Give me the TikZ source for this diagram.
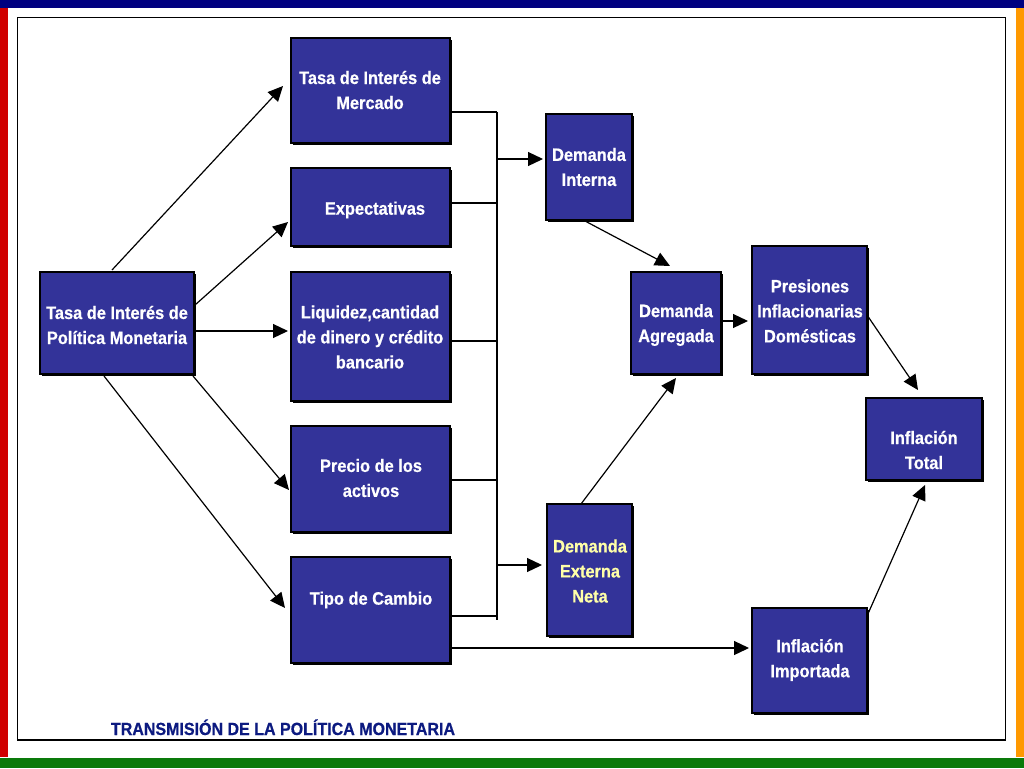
\documentclass[tikz,border=0pt]{standalone}
\usepackage{fontspec}
\usetikzlibrary{arrows.meta,calc,shadows}
\newfontfamily\boxfont[FakeStretch=0.91,FakeBold=0.6]{Liberation Sans}
\definecolor{boxblue}{HTML}{333399}
\definecolor{navybar}{HTML}{000080}
\definecolor{redbar}{HTML}{D00000}
\definecolor{orangebar}{HTML}{FF9900}
\definecolor{greenbar}{HTML}{0A7A0A}
\definecolor{titleblue}{HTML}{0C1A80}
\definecolor{paleyellow}{HTML}{FFFFA8}
\tikzset{
  flowbox/.style={draw=black, line width=1.1pt, fill=boxblue, inner sep=0pt, outer sep=0pt,
    anchor=north west, drop shadow={shadow xshift=1.6pt, shadow yshift=-1.6pt, fill=black, opacity=1}},
  boxtext/.style={text=white, align=center, inner sep=0pt,
    font=\boxfont\bfseries\fontsize{18}{25}\selectfont},
  conn/.style={line width=1.2pt, draw=black},
  arr/.style={conn, -{Triangle[length=15pt,width=14pt]}},
}
\begin{document}
\begin{tikzpicture}[x=1pt,y=-1pt]
\useasboundingbox (0,0) rectangle (1024,768);
% page decoration
\fill[white] (0,0) rectangle (1024,768);
\fill[redbar] (0,5) rectangle (8,757);
\fill[orangebar] (1016,8) rectangle (1024,757);
\fill[navybar] (0,0) rectangle (1024,8);
\fill[greenbar] (0,758) rectangle (1024,768);
\draw[line width=1.6pt] (17.5,17.5) rectangle (1005.5,740);

% boxes
\node[flowbox, minimum width=154pt, minimum height=102pt] (A) at (40,272) {};
\node[flowbox, minimum width=159pt, minimum height=105pt] (B) at (291,38) {};
\node[flowbox, minimum width=159pt, minimum height=78pt]  (C) at (291,168) {};
\node[flowbox, minimum width=159pt, minimum height=129pt] (D) at (291,272) {};
\node[flowbox, minimum width=159pt, minimum height=106pt] (E) at (291,426) {};
\node[flowbox, minimum width=159pt, minimum height=106pt] (F) at (291,557) {};
\node[flowbox, minimum width=86pt,  minimum height=106pt] (G) at (546,114) {};
\node[flowbox, minimum width=85pt,  minimum height=132pt] (H) at (547,504) {};
\node[flowbox, minimum width=90pt,  minimum height=102pt] (I) at (631,272) {};
\node[flowbox, minimum width=115pt, minimum height=128pt] (J) at (752,246) {};
\node[flowbox, minimum width=116pt, minimum height=82pt]  (K) at (866,398) {};
\node[flowbox, minimum width=115pt, minimum height=105pt] (L) at (752,608) {};

% texts
\node[boxtext] (At) at (117,325) {Tasa de Interés de\\Política Monetaria};
\node[boxtext] (Bt) at (370,90) {Tasa de Interés de\\Mercado};
\node[boxtext] (Ct) at (375,210) {Expectativas};
\node[boxtext] (Dt) at (370,337) {Liquidez,cantidad\\de dinero y crédito\\bancario};
\node[boxtext] (Et) at (371,478) {Precio de los\\activos};
\node[boxtext] (Ft) at (371,600) {Tipo de Cambio};
\node[boxtext] (Gt) at (589,167) {Demanda\\Interna};
\node[boxtext, text=paleyellow] (Ht) at (590,571) {Demanda\\Externa\\Neta};
\node[boxtext] (It) at (676,325) {Demanda\\Agregada};
\node[boxtext] (Jt) at (810,311) {Presiones\\Inflacionarias\\Domésticas};
\node[boxtext] (Kt) at (924,450) {Inflación\\Total};
\node[boxtext] (Lt) at (810,660) {Inflación\\Importada};

\node[anchor=base, text=titleblue, inner sep=0pt,
  font=\boxfont\bfseries\fontsize{17.6}{20}\selectfont] (title) at (283,735)
  {TRANSMISIÓN DE LA POLÍTICA MONETARIA};

% arrows from A
\draw[arr] ($(A.north west)+(72,-2)$) -- ($(B.north west)+(-8,48)$);
\draw[arr] ($(A.north east)+(1,33)$) -- ($(C.north west)+(-3,54)$);
\draw[arr] ($(A.north east)+(1,59)$) -- ($(D.north west)+(-3,59)$);
\draw[arr] ($(A.south east)+(-1,2)$) -- ($(E.north west)+(-2,64)$);
\draw[arr] ($(A.south west)+(64,2)$) -- ($(F.north west)+(-6,51)$);

% bus
\coordinate (busT) at (497,112);
\coordinate (busB) at (497,620);
\draw[conn] (busT) -- (busB);
\draw[conn] ($(B.north east)+(0,74)$) coordinate (b1) -- (b1 -| busT);
\draw[conn] ($(C.north east)+(0,35)$) coordinate (c1) -- (c1 -| busT);
\draw[conn] ($(D.north east)+(0,69)$) coordinate (d1) -- (d1 -| busT);
\draw[conn] ($(E.north east)+(0,54)$) coordinate (e1) -- (e1 -| busT);
\draw[conn] ($(F.north east)+(0,59)$) coordinate (f1) -- (f1 -| busT);
\coordinate (g0) at ($(G.north west)+(-3,45)$);
\draw[arr] (g0 -| busT) -- (g0);
\coordinate (h0) at ($(H.north west)+(-5,61)$);
\draw[arr] (h0 -| busT) -- (h0);

% other arrows
\draw[arr] ($(F.south east)+(0,-15)$) -- ($(L.north west)+(-3,40)$);
\draw[arr] ($(G.south west)+(39,1)$) -- ($(I.north west)+(39,-6)$);
\draw[arr] ($(H.north west)+(34,0)$) -- ($(I.south west)+(45,4)$);
\draw[arr] ($(I.north east)+(0,49)$) -- ($(J.north west)+(-4,75)$);
\draw[arr] ($(J.north east)+(0,69)$) -- ($(K.north west)+(52,-8)$);
\draw[arr] ($(L.north east)+(0,8)$) -- ($(K.south west)+(59,5)$);
\end{tikzpicture}
\end{document}
